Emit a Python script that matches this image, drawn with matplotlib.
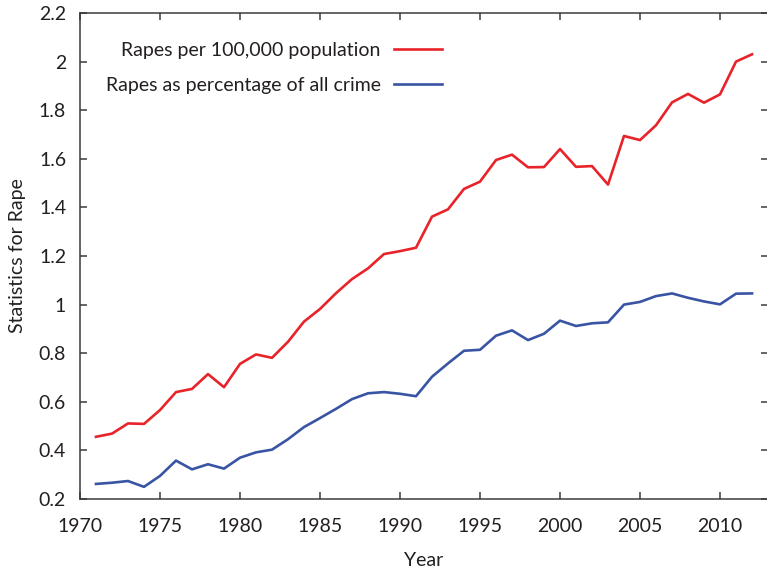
import matplotlib

matplotlib.use("Agg")
import matplotlib.pyplot as plt

plt.rcParams["font.family"] = ["Lato", "DejaVu Sans"]

years = list(range(1971, 2013))

rapes_per_100k = [
    0.456, 0.469, 0.511, 0.509, 0.566, 0.640, 0.653, 0.714, 0.660, 0.756,
    0.795, 0.781, 0.847, 0.930, 0.982, 1.047, 1.105, 1.149, 1.208, 1.220,
    1.234, 1.362, 1.392, 1.476, 1.506, 1.595, 1.617, 1.565, 1.566, 1.640,
    1.567, 1.570, 1.494, 1.694, 1.677, 1.738, 1.832, 1.867, 1.831, 1.865,
    2.000, 2.030,
]

rapes_pct_crime = [
    0.262, 0.267, 0.274, 0.250, 0.295, 0.358, 0.322, 0.343, 0.325, 0.370,
    0.392, 0.403, 0.446, 0.496, 0.533, 0.571, 0.611, 0.635, 0.640, 0.633,
    0.623, 0.703, 0.758, 0.810, 0.814, 0.872, 0.894, 0.854, 0.880, 0.934,
    0.912, 0.923, 0.927, 1.000, 1.011, 1.035, 1.046, 1.028, 1.013, 1.001,
    1.045, 1.046,
]

x_ticks = [1970, 1975, 1980, 1985, 1990, 1995, 2000, 2005, 2010]
y_ticks = [0.2, 0.4, 0.6, 0.8, 1.0, 1.2, 1.4, 1.6, 1.8, 2.0, 2.2]
y_labels = ["0.2", "0.4", "0.6", "0.8", "1", "1.2", "1.4", "1.6", "1.8", "2", "2.2"]

RED = "#e8232a"
BLUE = "#3a54a4"
INK = "#231f20"
AXIS = "#3a3a3a"
FS = 14

fig = plt.figure(figsize=(7.67, 5.72), dpi=100)
ax = fig.add_axes([80 / 767, 73 / 572, 688 / 767, 486 / 572])

ax.plot(years, rapes_per_100k, color=RED, lw=1.9, label="Rapes per 100,000 population")
ax.plot(years, rapes_pct_crime, color=BLUE, lw=1.9, label="Rapes as percentage of all crime")

ax.set_xlim(1970, 2013)
ax.set_ylim(0.2, 2.2)
ax.set_xticks(x_ticks)
ax.set_yticks(y_ticks, y_labels)

ax.tick_params(axis="both", which="both", direction="in", length=5, width=1.1,
               color=AXIS, labelcolor=INK, labelsize=FS,
               top=True, right=True)
ax.tick_params(axis="x", pad=14)
ax.tick_params(axis="y", pad=10)
for spine in ax.spines.values():
    spine.set_color(AXIS)
    spine.set_linewidth(1.1)

ax.set_xlabel("Year", fontsize=FS, color=INK, labelpad=12)
ax.set_ylabel("Statistics for Rape", fontsize=FS, color=INK, labelpad=9)

ax.legend(loc="center right", bbox_to_anchor=(0.526, 0.887), frameon=False,
          markerfirst=False, fontsize=FS, handlelength=2.45, handletextpad=0.7,
          labelspacing=0.95, borderpad=0, borderaxespad=0, labelcolor=INK)

fig.savefig("out.png", dpi=100)
